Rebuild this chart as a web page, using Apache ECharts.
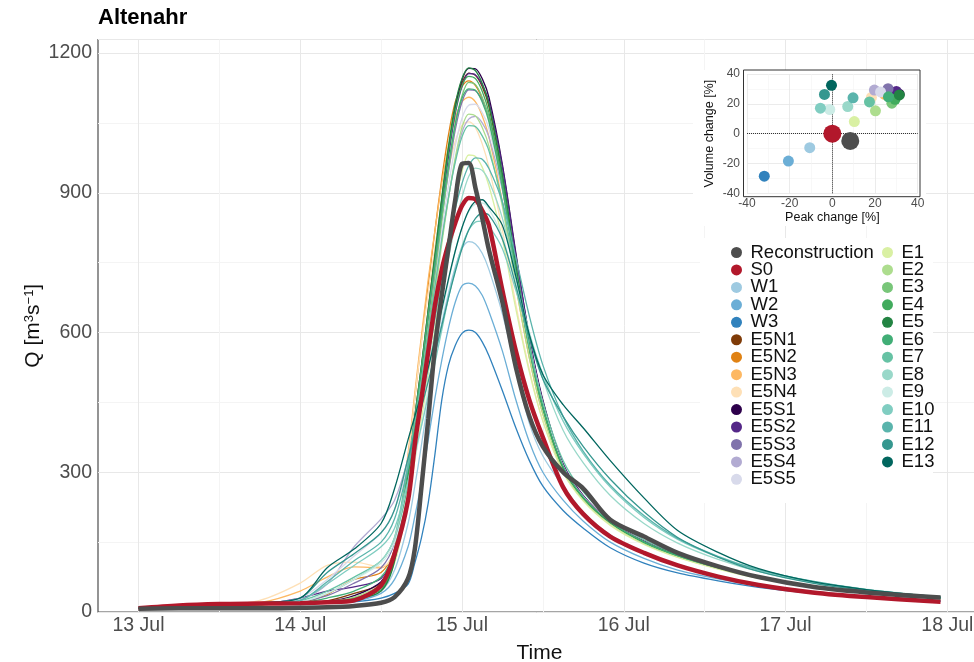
<!DOCTYPE html>
<html>
<head>
<meta charset="utf-8">
<title>Altenahr</title>
<script src="https://cdn.jsdelivr.net/npm/echarts@6/dist/echarts.min.js"></script>
<style>
  html, body { margin: 0; padding: 0; background: #ffffff; }
  #chart { width: 974px; height: 662px; }
</style>
</head>
<body>
<div id="chart"></div>
<script>
// Discharge hydrographs at Altenahr, hours counted from 13 Jul 00:00
const hours = [0, 6, 12, 18, 24, 28, 32, 36, 38, 40, 41, 42, 43, 44, 45, 46, 47, 48, 49, 50, 51, 52, 54, 56, 58, 60, 63, 66, 70, 75, 80, 86, 92, 100, 108, 119];

const dayLabels = ['13 Jul', '14 Jul', '15 Jul', '16 Jul', '17 Jul', '18 Jul'];

// discharge [m3/s]
const qReconstruction = [7, 8, 8, 8, 9, 10, 13, 20, 32, 72, 135, 270, 415, 570, 680, 782, 885, 962, 964, 910, 846, 777, 665, 525, 420, 355, 300, 265, 198, 162, 127, 98, 75, 54, 42, 31];
const qS0  = [8, 14, 17, 18, 19, 21, 25, 57, 125, 240, 360, 460, 560, 660, 735, 790, 835, 872, 889, 886, 862, 830, 690, 560, 455, 375, 268, 210, 162, 127, 100, 76, 58, 42, 32, 22];
const qW1  = [8, 13, 16, 17, 18, 20, 23, 45, 90, 190, 270, 360, 455, 545, 620, 685, 740, 780, 795, 790, 770, 735, 640, 520, 405, 335, 270, 215, 165, 125, 98, 76, 59, 44, 34, 25];
const qW2  = [8, 13, 16, 17, 18, 20, 23, 40, 70, 140, 205, 280, 370, 460, 540, 610, 665, 700, 706, 700, 680, 645, 560, 455, 365, 300, 240, 195, 150, 115, 90, 71, 56, 42, 33, 24];
const qW3  = [8, 13, 16, 17, 18, 20, 22, 30, 40, 60, 105, 160, 235, 340, 455, 530, 572, 598, 605, 600, 580, 550, 475, 395, 325, 270, 218, 180, 138, 105, 84, 67, 53, 40, 32, 23];
const qE5N1 = [8, 13, 15, 16, 18, 24, 40, 62, 125, 300, 420, 530, 650, 770, 885, 992, 1080, 1135, 1157, 1152, 1128, 1085, 935, 742, 572, 440, 310, 245, 192, 150, 122, 96, 75, 55, 42, 30];
const qE5N2 = [8, 13, 15, 16, 20, 38, 70, 85, 135, 330, 460, 585, 705, 820, 930, 1025, 1095, 1128, 1140, 1130, 1102, 1058, 912, 726, 562, 436, 310, 245, 192, 150, 121, 96, 75, 55, 42, 30];
const qE5N3 = [8, 13, 15, 20, 45, 75, 97, 95, 130, 340, 470, 595, 715, 820, 920, 1000, 1060, 1095, 1105, 1095, 1065, 1020, 880, 700, 545, 425, 305, 242, 190, 148, 120, 95, 74, 54, 41, 29];
const qE5N4 = [8, 13, 16, 25, 62, 100, 107, 97, 125, 330, 460, 580, 685, 785, 875, 950, 1010, 1045, 1052, 1040, 1005, 955, 820, 660, 520, 410, 300, 240, 188, 147, 118, 93, 73, 54, 41, 29];
const qE5S1 = [8, 13, 15, 16, 18, 22, 35, 65, 125, 285, 400, 510, 630, 755, 875, 988, 1082, 1142, 1167, 1166, 1145, 1105, 960, 770, 590, 455, 318, 250, 195, 152, 123, 97, 76, 56, 42, 30];
const qE5S2 = [8, 13, 15, 17, 30, 45, 54, 72, 130, 295, 405, 515, 635, 755, 870, 978, 1070, 1128, 1156, 1153, 1132, 1095, 955, 765, 588, 452, 316, 249, 194, 151, 123, 97, 76, 56, 42, 30];
const qE5S3 = [8, 13, 15, 17, 22, 35, 62, 95, 150, 300, 405, 510, 620, 735, 845, 945, 1035, 1095, 1121, 1119, 1098, 1062, 930, 750, 580, 448, 315, 248, 194, 151, 122, 96, 75, 55, 42, 30];
const qE5S4 = [8, 13, 15, 17, 26, 60, 140, 200, 240, 330, 410, 500, 600, 700, 800, 890, 970, 1030, 1058, 1064, 1050, 1020, 905, 735, 575, 445, 312, 246, 193, 150, 122, 96, 75, 55, 42, 30];
const qE5S5 = [8, 13, 15, 18, 30, 70, 120, 170, 220, 320, 410, 505, 610, 715, 820, 915, 1000, 1060, 1088, 1090, 1072, 1038, 915, 740, 578, 446, 313, 247, 193, 150, 122, 96, 75, 55, 42, 30];
const qE1  = [8, 13, 15, 16, 18, 22, 30, 55, 105, 235, 325, 415, 510, 610, 710, 800, 880, 945, 981, 978, 955, 915, 800, 650, 515, 410, 300, 238, 186, 145, 117, 92, 72, 53, 40, 29];
const qE2  = [8, 13, 15, 16, 18, 22, 32, 60, 115, 265, 365, 465, 570, 680, 790, 888, 975, 1040, 1069, 1065, 1040, 1000, 870, 700, 545, 425, 305, 242, 190, 148, 120, 94, 73, 54, 41, 29];
const qE3  = [8, 13, 15, 16, 18, 22, 30, 52, 110, 270, 385, 495, 610, 725, 840, 950, 1045, 1108, 1137, 1132, 1105, 1060, 915, 730, 565, 438, 310, 245, 192, 150, 121, 95, 74, 55, 42, 30];
const qE4  = [8, 13, 15, 16, 18, 22, 28, 48, 115, 290, 410, 520, 640, 760, 880, 990, 1075, 1130, 1150, 1145, 1118, 1072, 925, 735, 568, 438, 310, 245, 192, 150, 121, 95, 74, 55, 42, 30];
const qE5  = [8, 13, 15, 16, 18, 21, 27, 45, 110, 300, 420, 530, 650, 770, 890, 1000, 1090, 1145, 1168, 1162, 1135, 1090, 940, 745, 575, 440, 310, 245, 192, 150, 122, 96, 75, 55, 42, 30];
const qE6  = [8, 13, 15, 16, 20, 30, 45, 75, 135, 305, 415, 525, 640, 750, 860, 960, 1048, 1103, 1123, 1120, 1095, 1052, 910, 728, 565, 438, 312, 246, 193, 150, 121, 95, 74, 55, 42, 30];
const qE7  = [8, 13, 15, 17, 24, 45, 75, 110, 160, 320, 410, 500, 600, 700, 800, 890, 965, 1020, 1044, 1042, 1022, 990, 880, 720, 570, 450, 325, 258, 200, 155, 125, 98, 76, 56, 42, 30];
const qE8  = [8, 13, 15, 17, 22, 40, 70, 110, 160, 280, 360, 440, 520, 600, 680, 760, 830, 890, 935, 953, 948, 925, 845, 720, 600, 500, 390, 320, 250, 190, 148, 113, 87, 63, 47, 32];
const qE9  = [8, 13, 15, 17, 22, 40, 70, 105, 150, 260, 330, 400, 480, 560, 640, 710, 775, 825, 860, 876, 878, 865, 805, 705, 600, 510, 410, 340, 270, 205, 158, 120, 91, 66, 49, 33];
const qE10 = [8, 13, 15, 18, 25, 60, 100, 140, 180, 280, 340, 400, 465, 535, 605, 675, 735, 785, 820, 837, 839, 828, 780, 690, 595, 510, 410, 340, 268, 203, 156, 118, 90, 65, 48, 32];
const qE11 = [8, 13, 15, 18, 25, 65, 110, 150, 200, 310, 380, 460, 545, 630, 715, 795, 865, 920, 958, 975, 972, 952, 880, 760, 635, 530, 420, 345, 272, 207, 158, 119, 91, 66, 48, 32];
const qE12 = [8, 13, 15, 20, 30, 85, 125, 170, 220, 330, 385, 440, 495, 555, 615, 675, 730, 780, 820, 845, 856, 852, 800, 700, 590, 500, 420, 355, 285, 215, 160, 118, 87, 62, 46, 31];
const qE13 = [8, 13, 15, 20, 30, 95, 135, 190, 265, 370, 420, 470, 525, 585, 650, 715, 775, 825, 862, 882, 885, 870, 830, 720, 595, 510, 445, 395, 325, 245, 175, 128, 93, 65, 48, 32];

// scenario order as listed in the legend
const scenarioNames = ['Reconstruction', 'S0', 'W1', 'W2', 'W3', 'E5N1', 'E5N2', 'E5N3', 'E5N4', 'E5S1', 'E5S2', 'E5S3', 'E5S4', 'E5S5',
  'E1', 'E2', 'E3', 'E4', 'E5', 'E6', 'E7', 'E8', 'E9', 'E10', 'E11', 'E12', 'E13'];

// change relative to S0 [%]
const peakChange   = [8.4, 0, -10.6, -20.6, -31.9, 30.1, 28.2, 24.3, 18.3, 31.3, 30.0, 26.1, 19.7, 22.6, 10.3, 20.2, 27.9, 29.4, 31.4, 26.3, 17.4, 7.2, -1.2, -5.6, 9.7, -3.7, -0.4];
const volumeChange = [-4.9, 0, -9.4, -18.4, -28.5, 26.0, 26.5, 26.5, 24.3, 26.5, 28.3, 30.1, 29.2, 28.0, 8.1, 15.3, 20.4, 23.0, 26.0, 24.7, 21.3, 18.2, 16.2, 17.1, 24.0, 26.3, 32.4];

const discharge = {
  'Reconstruction': qReconstruction, 'S0': qS0, 'W1': qW1, 'W2': qW2, 'W3': qW3,
  'E5N1': qE5N1, 'E5N2': qE5N2, 'E5N3': qE5N3, 'E5N4': qE5N4,
  'E5S1': qE5S1, 'E5S2': qE5S2, 'E5S3': qE5S3, 'E5S4': qE5S4, 'E5S5': qE5S5,
  'E1': qE1, 'E2': qE2, 'E3': qE3, 'E4': qE4, 'E5': qE5, 'E6': qE6, 'E7': qE7,
  'E8': qE8, 'E9': qE9, 'E10': qE10, 'E11': qE11, 'E12': qE12, 'E13': qE13
};

const colors = {
  'Reconstruction': '#4d4d4d', 'S0': '#b2182b',
  'W1': '#9ecae1', 'W2': '#6baed6', 'W3': '#3182bd',
  'E5N1': '#7f3b08', 'E5N2': '#e08214', 'E5N3': '#fdb863', 'E5N4': '#fee0b6',
  'E5S1': '#2d004b', 'E5S2': '#542788', 'E5S3': '#8073ac', 'E5S4': '#b2abd2', 'E5S5': '#d8daeb',
  'E1': '#d9f0a3', 'E2': '#addd8e', 'E3': '#78c679', 'E4': '#41ab5d', 'E5': '#238443',
  'E6': '#41ae76', 'E7': '#66c2a4', 'E8': '#99d8c9', 'E9': '#ccece6',
  'E10': '#80cdc1', 'E11': '#5ab4ac', 'E12': '#35978f', 'E13': '#01665e'
};

const FONT = '"Liberation Sans", Arial, Helvetica, sans-serif';

function hydrograph(name, width) {
  const q = discharge[name];
  return {
    type: 'line',
    name: name,
    xAxisIndex: 0,
    yAxisIndex: 0,
    data: hours.map((h, i) => [h, q[i]]),
    showSymbol: false,
    symbol: 'none',
    smooth: 0.3,
    lineStyle: { color: colors[name], width: width },
    itemStyle: { color: colors[name] },
    emphasis: { disabled: true },
    z: 2
  };
}

// thin scenario lines first, then S0 and the reconstruction on top
const drawOrder = scenarioNames.slice(2).concat(['S0', 'Reconstruction']);
const lineSeries = drawOrder.map(n => hydrograph(n, (n === 'S0' || n === 'Reconstruction') ? 4.5 : 1.3));

const insetPoints = scenarioNames.map((n, i) => ({
  value: [peakChange[i], volumeChange[i]],
  symbolSize: (n === 'S0' || n === 'Reconstruction') ? 18 : 11,
  itemStyle: { color: colors[n], opacity: 1 }
}));

const insetSeries = {
  type: 'scatter',
  name: 'inset',
  xAxisIndex: 1,
  yAxisIndex: 1,
  data: insetPoints,
  symbol: 'circle',
  z: 6,
  emphasis: { disabled: true },
  markLine: {
    silent: true,
    z: 5,
    symbol: 'none',
    label: { show: false },
    lineStyle: { type: 'dotted', color: '#333333', width: 1 },
    emphasis: { disabled: true },
    data: [{ xAxis: 0 }, { yAxis: 0 }]
  }
};

const legendText = { fontSize: 18.5, lineHeight: 17, color: '#111111', fontFamily: FONT };

const option = {
  animation: false,
  backgroundColor: '#ffffff',
  textStyle: { fontFamily: FONT },
  title: {
    text: 'Altenahr',
    left: 98,
    top: 7,
    padding: 0,
    textStyle: { fontSize: 22, fontWeight: 'bold', color: '#000000', fontFamily: FONT }
  },
  legend: [
    {
      data: scenarioNames.slice(0, 14),
      orient: 'vertical', left: 731, top: 243, padding: 0,
      icon: 'circle', itemWidth: 18, itemHeight: 11, itemGap: -1.55,
      selectedMode: false, textStyle: legendText, z: 8
    },
    {
      data: scenarioNames.slice(14),
      orient: 'vertical', left: 882, top: 243, padding: 0,
      icon: 'circle', itemWidth: 18, itemHeight: 11, itemGap: -1.55,
      selectedMode: false, textStyle: legendText, z: 8
    }
  ],
  grid: [
    { left: 98, width: 883, top: 39.5, bottom: 50, outerBoundsMode: 'none', show: true, borderColor: '#4d4d4d', borderWidth: 1.2, backgroundColor: 'transparent' },
    { left: 747, top: 74, width: 170.7, height: 119.3, outerBoundsMode: 'none', show: false }
  ],
  xAxis: [
    {
      gridIndex: 0, type: 'value', min: -6, max: 125, interval: 6,
      axisLine: { show: false }, axisTick: { show: false },
      axisLabel: {
        fontSize: 19.5, color: '#4d4d4d', margin: 4, fontFamily: FONT,
        formatter: v => (v >= 0 && v % 24 === 0) ? dayLabels[v / 24] : ''
      },
      splitLine: { show: true, lineStyle: { color: ['rgba(0,0,0,0)', '#e8e8e8', 'rgba(0,0,0,0)', '#f4f4f4'], width: 1 } },
      name: 'Time', nameLocation: 'middle', nameGap: 31, nameMoveOverlap: false,
      nameTextStyle: { fontSize: 21, color: '#111111', fontFamily: FONT }
    },
    {
      gridIndex: 1, type: 'value', min: -40, max: 40, interval: 20, z: 4,
      axisLine: { show: false }, axisTick: { show: false },
      axisLabel: { fontSize: 12, color: '#4d4d4d', margin: 4, fontFamily: FONT },
      splitLine: { show: true, lineStyle: { color: '#e6e6e6', width: 0.8 } },
      minorTick: { show: false, splitNumber: 2 },
      minorSplitLine: { show: true, lineStyle: { color: '#f3f3f3', width: 0.6 } },
      name: 'Peak change [%]', nameLocation: 'middle', nameGap: 18, nameMoveOverlap: false,
      nameTextStyle: { fontSize: 12.5, color: '#111111', fontFamily: FONT }
    }
  ],
  yAxis: [
    {
      gridIndex: 0, type: 'value', min: 0, max: 1229, interval: 300,
      axisLine: { show: false }, axisTick: { show: false },
      axisLabel: { fontSize: 19.5, color: '#4d4d4d', margin: 6, fontFamily: FONT, formatter: v => String(v) },
      splitLine: { show: true, lineStyle: { color: '#e8e8e8', width: 1 } },
      minorTick: { show: false, splitNumber: 2 },
      minorSplitLine: { show: true, lineStyle: { color: '#f4f4f4', width: 1 } },
      name: '{a|Q [m}{s|3}{a|s}{s|−1}{a|]}', nameLocation: 'middle', nameGap: 54, nameMoveOverlap: false,
      nameTextStyle: {
        color: '#111111', fontFamily: FONT,
        rich: {
          a: { fontSize: 21, color: '#111111', fontFamily: FONT, verticalAlign: 'bottom' },
          s: { fontSize: 13, color: '#111111', fontFamily: FONT, verticalAlign: 'top' }
        }
      }
    },
    {
      gridIndex: 1, type: 'value', min: -40, max: 40, interval: 20, z: 4,
      axisLine: { show: false }, axisTick: { show: false },
      axisLabel: { fontSize: 12, color: '#4d4d4d', margin: 7, fontFamily: FONT },
      splitLine: { show: true, lineStyle: { color: '#e6e6e6', width: 0.8 } },
      minorTick: { show: false, splitNumber: 2 },
      minorSplitLine: { show: true, lineStyle: { color: '#f3f3f3', width: 0.6 } },
      name: 'Volume change [%]', nameLocation: 'middle', nameGap: 31, nameMoveOverlap: false,
      nameTextStyle: { fontSize: 12.5, color: '#111111', fontFamily: FONT }
    }
  ],
  graphic: [
    { type: 'rect', z: 3, silent: true, shape: { x: 693, y: 70, width: 233, height: 156 }, style: { fill: '#ffffff' } },
    { type: 'rect', z: 3, silent: true, shape: { x: 700, y: 238, width: 233, height: 265 }, style: { fill: '#ffffff' } },
    { type: 'rect', z: 7, silent: true, shape: { x: 743.5, y: 70, width: 176.5, height: 126.7 }, style: { fill: 'none', stroke: '#333333', lineWidth: 1 } }
  ],
  series: lineSeries.concat([insetSeries])
};

const chart = echarts.init(document.getElementById('chart'), null, { renderer: 'canvas' });
chart.setOption(option);
</script>
</body>
</html>
